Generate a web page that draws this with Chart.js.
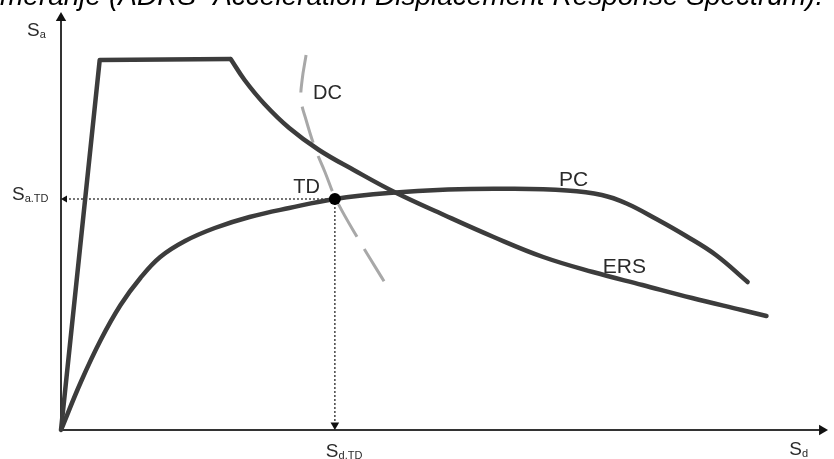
<!DOCTYPE html>
<html><head><meta charset="utf-8">
<script src="https://cdn.jsdelivr.net/npm/chart.js@4"></script>
<style>html,body{margin:0;padding:0;background:#fff;overflow:hidden}#wrap{width:834px;height:459px;position:relative}</style>
</head><body><div id="wrap"><canvas id="c" width="834" height="459"></canvas></div>
<script>
const titleText = "meranje (ADRS- Acceleration Displacement Response Spectrum).";
const curveLabels = ["DC", "TD", "PC", "ERS"];
const axisLabels = { y: ["S", "a"], x: ["S", "d"], yTD: ["S", "a.TD"], xTD: ["S", "d.TD"] };

// ERS (elastic response spectrum) - linear rise + plateau, then descending branch
const ersLinear = [{x:0,y:0},{x:39,y:370},{x:171,y:371}];
const ersCurve = [{x:171,y:371},{x:185,y:350},{x:205,y:326},{x:230,y:302},{x:260,y:280},{x:295,y:260},{x:336,y:238},{x:386,y:215},{x:436,y:193},{x:486,y:173},{x:536,y:158},{x:586,y:145},{x:636,y:132},{x:686,y:120},{x:711,y:114}];
// PC (capacity curve)
const pcCurve = [{x:0,y:0},{x:20,y:48},{x:40,y:90},{x:60,y:125},{x:80,y:152},{x:100,y:173},{x:125,y:189},{x:155,y:202},{x:190,y:213},{x:230,y:222},{x:276,y:231},{x:330,y:237},{x:390,y:240.5},{x:450,y:241.2},{x:510,y:239.5},{x:545,y:235},{x:570,y:226.5},{x:600,y:211},{x:630,y:194},{x:660,y:175},{x:692,y:148}];
// DC (demand curve)
const dcCurve = [{x:247,y:375},{x:243,y:350},{x:242,y:330},{x:247,y:310},{x:256,y:282},{x:266,y:258},{x:277,y:231},{x:299,y:192},{x:326,y:148}];
// TD (target displacement) point
const tdPoint = [{x:276,y:231}];
const tdHoriz = [{x:4,y:231},{x:276,y:231}];
const tdVert = [{x:276,y:5},{x:276,y:231}];
const yAxisLine = [{x:0,y:0},{x:0,y:412}];
const xAxisLine = [{x:0,y:0},{x:767,y:0}];
const xMax = 773, yMax = 418;

const dark = '#3c3c3c';
const labelPlugin = {
  id: 'labels',
  afterDatasetsDraw(chart) {
    const ctx = chart.ctx, sx = chart.scales.x, sy = chart.scales.y;
    const X = v => sx.getPixelForValue(v), Y = v => sy.getPixelForValue(v);
    ctx.save();
    ctx.textBaseline = 'alphabetic';
    ctx.textAlign = 'left';
    ctx.fillStyle = '#000';
    ctx.font = 'italic 28px "Liberation Sans", Arial, sans-serif';
    ctx.fillText(titleText, 0, 5);
    ctx.fillStyle = '#2a2a2a';
    ctx.font = '20px "Liberation Sans", Arial, sans-serif';
    ctx.fillText(curveLabels[0], X(254), Y(331));
    ctx.fillText(curveLabels[1], X(234), Y(237));
    ctx.font = '21px "Liberation Sans", Arial, sans-serif';
    ctx.fillText(curveLabels[2], X(502), Y(244));
    ctx.fillText(curveLabels[3], X(546), Y(157));
    const sub = (pair, px, py) => {
      ctx.font = '19px "Liberation Sans", Arial, sans-serif';
      ctx.fillText(pair[0], px, py);
      const w = ctx.measureText(pair[0]).width;
      ctx.font = '11px "Liberation Sans", Arial, sans-serif';
      ctx.fillText(pair[1], px + w, py + 2);
    };
    sub(axisLabels.y, X(0) - 34, Y(yMax) + 24);
    sub(axisLabels.yTD, X(0) - 49, Y(231) + 1);
    sub(axisLabels.xTD, X(276) - 9, Y(0) + 27);
    sub(axisLabels.x, X(734), Y(0) + 25);
    ctx.restore();
  }
};

new Chart(document.getElementById('c'), {
  type: 'scatter',
  data: { datasets: [
    { data: tdPoint, pointRadius: 6, pointBackgroundColor: '#000', pointBorderWidth: 0, showLine: false, clip: false },
    { data: ersLinear, showLine: true, borderColor: dark, borderWidth: 4.5, pointRadius: 0, tension: 0, borderJoinStyle: 'round', clip: false },
    { data: ersCurve, showLine: true, borderColor: dark, borderWidth: 4.5, pointRadius: 0, tension: 0.4, borderCapStyle: 'round', clip: false },
    { data: pcCurve, showLine: true, borderColor: dark, borderWidth: 4.5, pointRadius: 0, tension: 0.4, borderCapStyle: 'round', clip: false },
    { data: dcCurve, showLine: true, borderColor: '#a8a8a8', borderWidth: 3, borderDash: [38, 14], pointRadius: 0, tension: 0.4, clip: false },
    { data: tdHoriz, showLine: true, borderColor: '#444', borderWidth: 1.5, borderDash: [2, 2], pointStyle: 'triangle', pointRadius: [4, 0], pointRotation: [270, 0], pointBackgroundColor: '#111', pointBorderWidth: 0, clip: false },
    { data: tdVert, showLine: true, borderColor: '#444', borderWidth: 1.5, borderDash: [2, 2], pointStyle: 'triangle', pointRadius: [5, 0], pointRotation: [180, 0], pointBackgroundColor: '#111', pointBorderWidth: 0, clip: false },
    { data: yAxisLine, showLine: true, borderColor: '#333', borderWidth: 2, pointStyle: 'triangle', pointRadius: [0, 6], pointRotation: [0, 0], pointBackgroundColor: '#111', pointBorderWidth: 0, clip: false },
    { data: xAxisLine, showLine: true, borderColor: '#333', borderWidth: 2, pointStyle: 'triangle', pointRadius: [0, 6], pointRotation: [0, 90], pointBackgroundColor: '#111', pointBorderWidth: 0, clip: false }
  ]},
  options: {
    responsive: false, animation: false, devicePixelRatio: 1,
    layout: { padding: { left: 61, right: 0, top: 12, bottom: 29 } },
    scales: {
      x: { type: 'linear', min: 0, max: xMax, display: false },
      y: { type: 'linear', min: 0, max: yMax, display: false }
    },
    plugins: { legend: { display: false }, tooltip: { enabled: false } },
    events: []
  },
  plugins: [labelPlugin]
});
</script></body></html>
